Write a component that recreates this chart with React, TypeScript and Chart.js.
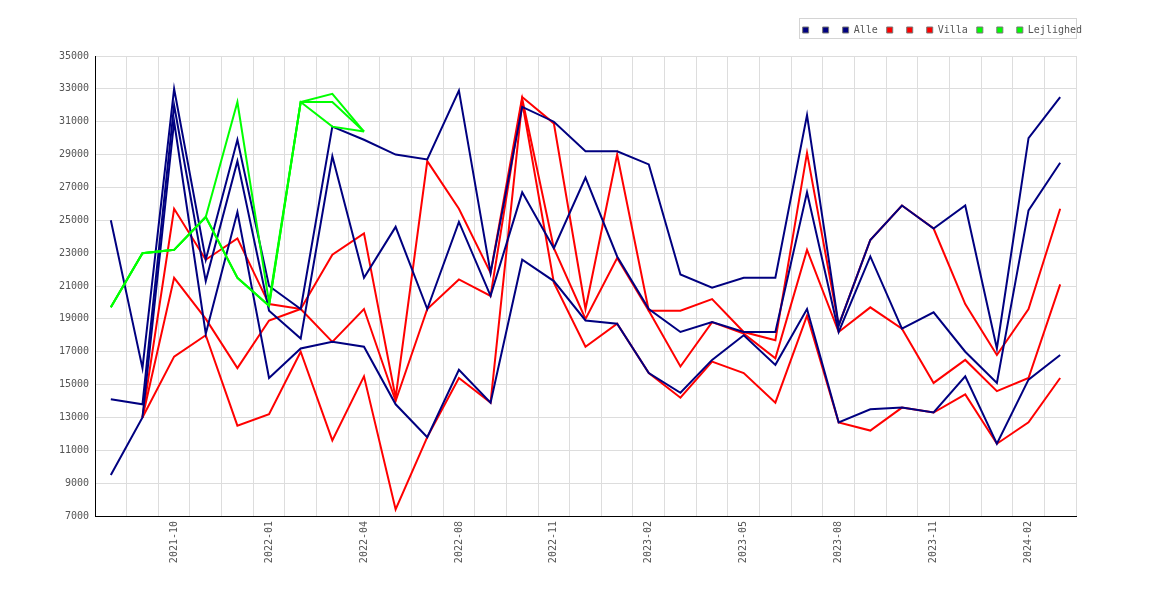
import { useEffect, useRef } from "react";
import { Chart, registerables } from "chart.js";

Chart.register(...registerables);

// months on the x axis (July 2022 is missing in the source)
const months = [
  "2021-08", "2021-09", "2021-10", "2021-11", "2021-12", "2022-01", "2022-02",
  "2022-03", "2022-04", "2022-05", "2022-06", "2022-08", "2022-09", "2022-10",
  "2022-11", "2022-12", "2023-01", "2023-02", "2023-03", "2023-04", "2023-05",
  "2023-06", "2023-07", "2023-08", "2023-09", "2023-10", "2023-11", "2023-12",
  "2024-01", "2024-02", "2024-03",
];

// Alle (navy)
const alleHigh = [
  25000, 16000, 33000, 22600, 29900, 21000, 19600, 30700, 29900, 29000, 28700,
  32900, 21800, 31900, 31000, 29200, 29200, 28400, 21700, 20900, 21500, 21500,
  31400, 18600, 23800, 25900, 24500, 25900, 17200, 30000, 32500,
];
const alleMid = [
  14100, 13800, 32000, 21300, 28600, 19500, 17800, 28900, 21500, 24600, 19600,
  24900, 20400, 26700, 23300, 27600, 22800, 19600, 18200, 18800, 18200, 18200,
  26700, 18200, 22800, 18400, 19400, 17000, 15100, 25600, 28500,
];
const alleLow = [
  9500, 13000, 31000, 18100, 25500, 15400, 17200, 17600, 17300, 13800, 11800,
  15900, 13900, 22600, 21300, 18900, 18700, 15700, 14500, 16500, 18000, 16200,
  19600, 12700, 13500, 13600, 13300, 15500, 11400, 15300, 16800,
];

// Villa (red)
const villaHigh = [
  null, 13000, 25700, 22600, 23900, 19900, 19600, 22900, 24200, 14200, 28600,
  25700, 21800, 32500, 30900, 19600, 29000, 19500, 19500, 20200, 18200, 17700,
  29100, 18600, 23800, 25900, 24500, 19900, 16800, 19600, 25700,
];
const villaMid = [
  null, 13000, 21500, 19000, 16000, 18900, 19600, 17600, 19600, 14000, 19600,
  21400, 20400, 32400, 23300, 19000, 22700, 19500, 16100, 18800, 18100, 16600,
  23200, 18200, 19700, 18400, 15100, 16500, 14600, 15400, 21100,
];
const villaLow = [
  null, 13000, 16700, 18000, 12500, 13200, 17000, 11600, 15500, 7400, 11800,
  15400, 13900, 32200, 21200, 17300, 18700, 15700, 14200, 16400, 15700, 13900,
  19200, 12700, 12200, 13600, 13300, 14400, 11400, 12700, 15400,
];

// Lejlighed (green), only the first months
const lejlHigh = [
  19700, 23000, 23200, 25200, 32200, 20000, 32200, 32700, 30400, null, null,
  null, null, null, null, null, null, null, null, null, null, null,
  null, null, null, null, null, null, null, null, null,
];
const lejlMid = [
  19700, 23000, 23200, 25200, 21500, 19800, 32200, 32200, 30400, null, null,
  null, null, null, null, null, null, null, null, null, null, null,
  null, null, null, null, null, null, null, null, null,
];
const lejlLow = [
  19700, 23000, 23200, 25200, 21500, 19800, 32200, 30700, 30400, null, null,
  null, null, null, null, null, null, null, null, null, null, null,
  null, null, null, null, null, null, null, null, null,
];

const NAVY = "#000080";
const RED = "#ff0000";
const GREEN = "#00ff00";
const FONT = "'DejaVu Sans Mono', monospace";
const TEXT = "#555555";
const GRID = "#dddddd";

// thin frame round the legend, like the original
const legendFrame = {
  id: "legendFrame",
  afterDraw(chart: any) {
    const boxes = chart.legend?.legendHitBoxes;
    if (!boxes || !boxes.length) return;
    const first = boxes[0];
    const ctx = chart.ctx;
    const left = Math.round(first.left - 4) + 0.5;
    const right = Math.round(chart.chartArea.right) + 0.5;
    const top = Math.round(first.top - 7) + 0.5;
    ctx.save();
    ctx.strokeStyle = "#d4d4d4";
    ctx.lineWidth = 1;
    ctx.strokeRect(left, top, right - left, 20);
    ctx.restore();
  },
};

const line = (label: string, data: (number | null)[], color: string, order: number) => ({
  label,
  data,
  borderColor: color,
  backgroundColor: color,
  borderWidth: 2,
  pointRadius: 0,
  tension: 0,
  order,
});

const App = () => {
  const canvasRef = useRef<HTMLCanvasElement | null>(null);

  useEffect(() => {
    document.body.style.margin = "0";
    if (!canvasRef.current) return;

    const chart = new Chart(canvasRef.current, {
      type: "line",
      data: {
        labels: months,
        datasets: [
          line("", alleHigh, NAVY, 1),
          line("", alleMid, NAVY, 1),
          line("Alle", alleLow, NAVY, 1),
          line("", villaHigh, RED, 2),
          line("", villaMid, RED, 2),
          line("Villa", villaLow, RED, 2),
          line("", lejlHigh, GREEN, 0),
          line("", lejlMid, GREEN, 0),
          line("Lejlighed", lejlLow, GREEN, 0),
        ],
      },
      options: {
        animation: false,
        responsive: true,
        maintainAspectRatio: false,
        layout: { padding: { top: 16, right: 79, left: 0, bottom: 0 } },
        plugins: {
          tooltip: { enabled: false },
          legend: {
            position: "top",
            align: "end",
            labels: {
              boxWidth: 6,
              boxHeight: 6,
              padding: 9,
              color: TEXT,
              font: { family: FONT, size: 10 },
              generateLabels: (c: any) =>
                c.data.datasets.map((ds: any, i: number) => ({
                  text: ds.label,
                  fillStyle: ds.borderColor,
                  strokeStyle: "#777777",
                  lineWidth: 1,
                  hidden: false,
                  datasetIndex: i,
                  fontColor: TEXT,
                })),
            },
          },
        },
        scales: {
          x: {
            type: "category",
            offset: true,
            grid: { offset: true, color: GRID, drawTicks: false },
            border: { color: "#000000", width: 1 },
            ticks: {
              autoSkip: false,
              minRotation: 90,
              maxRotation: 90,
              padding: 5,
              color: TEXT,
              font: { family: FONT, size: 10 },
              callback: function (this: any, value: any, index: number) {
                return index % 3 === 2 ? this.getLabelForValue(value) : "";
              },
            },
            afterFit: (s: any) => {
              s.height = 84;
            },
          },
          // spacer between legend and plot
          xTop: {
            type: "category",
            position: "top",
            grid: { display: false },
            border: { display: false },
            ticks: { display: false },
            afterFit: (s: any) => {
              s.height = 11;
            },
          },
          y: {
            min: 7000,
            max: 35000,
            grid: { color: GRID, drawTicks: false },
            border: { color: "#000000", width: 1 },
            ticks: {
              stepSize: 2000,
              padding: 6,
              color: TEXT,
              font: { family: FONT, size: 10 },
              callback: (value: any) => String(value),
            },
            afterFit: (s: any) => {
              s.width = 95;
            },
          },
          // spacer on the right so the legend can stick out past the plot
          yRight: {
            position: "right",
            grid: { display: false },
            border: { display: false },
            ticks: { display: false },
            afterFit: (s: any) => {
              s.width = 15;
            },
          },
        },
      },
      plugins: [legendFrame],
    });

    return () => {
      chart.destroy();
    };
  }, []);

  return (
    <div style={{ position: "relative", width: 1170, height: 600, background: "#ffffff" }}>
      <canvas ref={canvasRef}></canvas>
    </div>
  );
};

export default App;
